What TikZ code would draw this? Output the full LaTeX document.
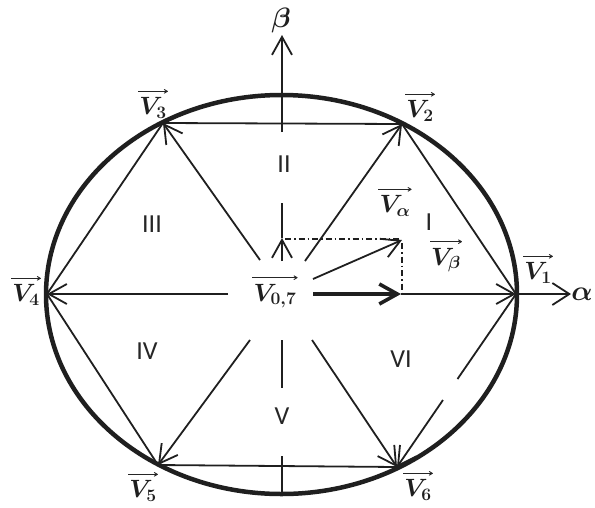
\RequirePackage{fix-cm}
\documentclass[tikz,border=0pt]{standalone}
\usepackage{fontspec}
\newfontfamily\romfont{Carlito}
\usetikzlibrary{arrows.meta}
\begin{document}
\begin{tikzpicture}[x=1pt,y=-1pt,
  ln/.style={line width=1.8pt, black!88},
  barb/.style={-{Straight Barb[length=18pt,width=20pt]}},
  lab/.style={font=\fontsize{25}{29}\selectfont\boldmath, inner sep=0pt, black!88},
  axl/.style={font=\fontsize{28}{32}\selectfont\boldmath, inner sep=0pt, black!88},
  rom/.style={font=\romfont\fontsize{26}{30}\selectfont, inner sep=0pt, black!85},
  varr/.style={line width=0.9pt, black!85, -{To[length=4pt,width=4.5pt]}},
  dd/.style={line width=1.3pt, black!88, dash pattern=on 6pt off 3pt on 1.5pt off 3pt}]
\useasboundingbox (0,0) rectangle (595,507);
% vertices
\coordinate (V1) at (516,294);
\coordinate (V2) at (402,124);
\coordinate (V3) at (163,123);
\coordinate (V4) at (47,294);
\coordinate (V5) at (158,465);
\coordinate (V6) at (397,467);
\coordinate (O) at (281.5,294.5);
% ellipse
\draw[line width=4.5pt, black!88] (O) ellipse [x radius=235.5pt, y radius=199.5pt];
% hexagon edges
\coordinate (G1) at (457.5,379);
\coordinate (G2) at (443,400);
\draw[ln] (V3) -- (V2);
\draw[ln] (V2) -- (V1);
\draw[ln] (V1) -- (G1);
\draw[ln, barb] (G2) -- (V6);
\draw[ln] (V6) -- (V5);
\draw[ln] (V5) -- (V4);
\draw[ln] (V4) -- (V3);
% rays from centre
\coordinate (S2) at (305,261);
\coordinate (S3) at (260,260);
\coordinate (S4) at (228,294);
\coordinate (S5) at (250,340);
\coordinate (S6) at (312,340);
\coordinate (S1) at (313,294);
\coordinate (P) at (401,294);
\coordinate (Aend) at (571,294);
\draw[ln, barb] (S2) -- (V2);
\draw[ln, barb] (S3) -- (V3);
\draw[ln, barb] (S4) -- (V4);
\draw[ln, barb] (S5) -- (V5);
\draw[ln, barb] (S6) -- (V6);
\draw[line width=3.6pt, black!88, barb] (S1) -- (P);
\draw[ln, barb] (P) -- (V1);
\draw[ln, -{Straight Barb[length=17pt,width=22pt]}] (V1) -- (Aend);
% beta axis
\coordinate (B0) at (282,132);
\coordinate (Bend) at (282,35);
\draw[ln, barb] (B0) -- (Bend);
\coordinate (M0) at (282,261);
\coordinate (M1) at (282,238);
\coordinate (M2) at (282,203);
\draw[ln] (M1) -- (M2);
\draw[ln, barb] (M0) -- (M1);
\coordinate (L0) at (282,340);
\coordinate (L1) at (282,388);
\draw[ln] (L0) -- (L1);
\coordinate (K0) at (282,456);
\coordinate (K1) at (282,494);
\draw[ln] (K0) -- (K1);
% reference vector
\coordinate (R0) at (313,279);
\coordinate (R1) at (402,240);
\coordinate (D0) at (285,239);
\coordinate (D1) at (402,239);
\coordinate (D2) at (402,243);
\coordinate (D3) at (402,294);
\draw[dd] (D0) -- (D1);
\draw[dd] (D2) -- (D3);
\draw[ln, barb] (R0) -- (R1);
% axis labels
\node[axl] (lb) at (281,20) {$\beta$};
\node[axl] (la) at (582,294) {$\alpha$};
% vector labels
\node[lab] (l3) at (153,108) {$V_3$};
\node[lab] (l2) at (420,111) {$V_2$};
\node[lab] (l1) at (538,273) {$V_1$};
\node[lab] (l4) at (26,295) {$V_4$};
\node[lab] (l0) at (275,296) {$V_{0,7}$};
\node[lab] (l5) at (143,491) {$V_5$};
\node[lab] (l6) at (418,490) {$V_6$};
\node[lab] (lva) at (395,206) {$V_\alpha$};
\node[lab] (lvb) at (446,260) {$V_\beta$};
\foreach \n in {l3,l2,l1,l4,l0,l5,l6,lva,lvb}
  \draw[varr] ([xshift=-1pt,yshift=6pt]\n.north west) -- ([xshift=1pt,yshift=6pt]\n.north east);
% sector numbers
\node[rom] (r1) at (429,222) {I};
\node[rom] (r2) at (284,164) {II};
\node[rom] (r3) at (152,224) {III};
\node[rom] (r4) at (147,351) {IV};
\node[rom] (r5) at (282,416) {V};
\node[rom] (r6) at (401,359) {VI};
\end{tikzpicture}
\end{document}
